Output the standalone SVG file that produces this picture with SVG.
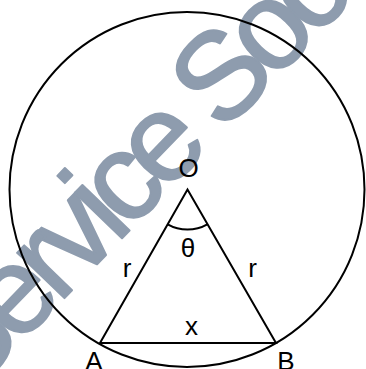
<svg xmlns="http://www.w3.org/2000/svg" width="366" height="369" viewBox="0 0 366 369">
<style>
.ln{fill:none;stroke:#000;stroke-width:2}
.lb{font-family:"Liberation Sans",Arial,sans-serif;font-size:26px;fill:#000;text-anchor:middle}
.wm{font-family:"Liberation Sans",Arial,sans-serif;font-size:124px;letter-spacing:-10px;fill:#8e9cae;stroke:#8e9cae;stroke-width:2;stroke-linejoin:round}
</style>
<rect width="366" height="369" fill="#fff"/>
<g id="watermark" transform="translate(-33,399) rotate(-46)">
<text class="wm" x="0" y="0">Service Soc</text>
</g>
<g id="circle"><circle class="ln" cx="187" cy="189.5" r="177.5"/></g>
<g id="connectors">
<path class="ln" d="M100,343 L187.5,189.5 L276,343 Z"/>
<path class="ln" d="M167.7,224.3 A40,40 0 0 0 207.3,224.3"/>
</g>
<g id="O"><text class="lb" x="188.5" y="177">O</text></g>
<g id="theta"><text class="lb" x="188" y="257">θ</text></g>
<g id="rL"><text class="lb" x="127" y="277">r</text></g>
<g id="rR"><text class="lb" x="252.5" y="277">r</text></g>
<g id="x"><text class="lb" x="191.5" y="335">x</text></g>
<g id="A"><text class="lb" x="94" y="370">A</text></g>
<g id="B"><text class="lb" x="286" y="370">B</text></g>
</svg>
